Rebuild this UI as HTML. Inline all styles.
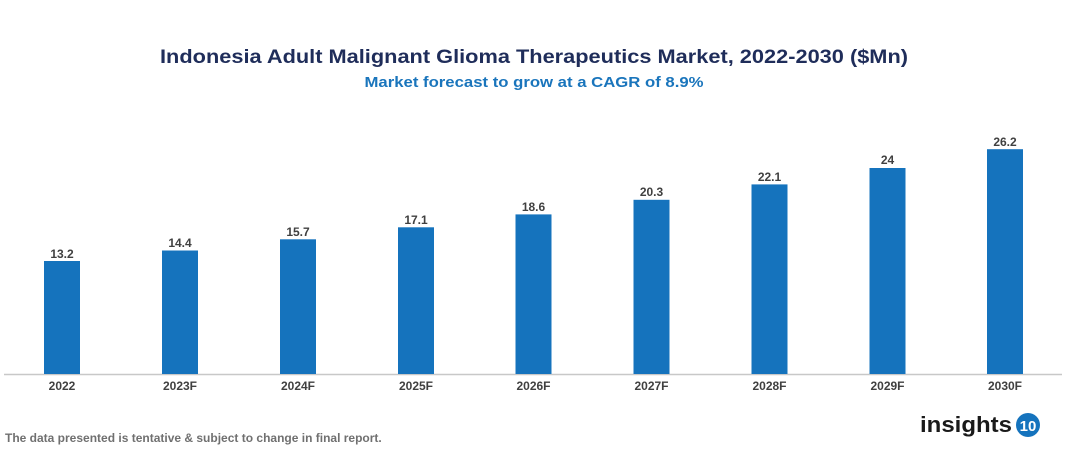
<!DOCTYPE html>
<html><head><style>body{margin:0;background:#fff}svg{display:block}</style></head><body>
<svg width="1067" height="454" xmlns="http://www.w3.org/2000/svg" font-family="Liberation Sans, Arial, sans-serif" font-weight="bold">
<text x="534" y="63" text-anchor="middle" font-size="19.5" fill="#1f2d5a" textLength="748" lengthAdjust="spacingAndGlyphs">Indonesia Adult Malignant Glioma Therapeutics Market, 2022-2030 ($Mn)</text>
<text x="534" y="87" text-anchor="middle" font-size="15" fill="#1a75bc" textLength="339" lengthAdjust="spacingAndGlyphs">Market forecast to grow at a CAGR of 8.9%</text>
<line x1="4" y1="374.5" x2="1062" y2="374.5" stroke="#c8c8c8" stroke-width="1.5"/>
<g fill="#1573bd">
<rect x="44" y="261" width="36" height="113"/>
<rect x="162" y="250.5" width="36" height="123.5"/>
<rect x="280" y="239.3" width="36" height="134.7"/>
<rect x="398" y="227.3" width="36" height="146.7"/>
<rect x="515.5" y="214.4" width="36" height="159.6"/>
<rect x="633.5" y="199.8" width="36" height="174.2"/>
<rect x="751.5" y="184.4" width="36" height="189.6"/>
<rect x="869.5" y="168" width="36" height="206"/>
<rect x="987" y="149.2" width="36" height="224.8"/>
</g>
<g font-size="12" fill="#404040" text-anchor="middle">
<text x="62" y="258">13.2</text>
<text x="180" y="247">14.4</text>
<text x="298" y="236">15.7</text>
<text x="416" y="224">17.1</text>
<text x="533.5" y="211">18.6</text>
<text x="651.5" y="196">20.3</text>
<text x="769.5" y="181">22.1</text>
<text x="887.5" y="164">24</text>
<text x="1005" y="146">26.2</text>
</g>
<g font-size="12" fill="#404040" text-anchor="middle">
<text x="62" y="390">2022</text>
<text x="180" y="390">2023F</text>
<text x="298" y="390">2024F</text>
<text x="416" y="390">2025F</text>
<text x="533.5" y="390">2026F</text>
<text x="651.5" y="390">2027F</text>
<text x="769.5" y="390">2028F</text>
<text x="887.5" y="390">2029F</text>
<text x="1005" y="390">2030F</text>
</g>
<text x="5" y="442" font-size="12" fill="#707070">The data presented is tentative &amp; subject to change in final report.</text>
<text x="920" y="432" font-size="22" fill="#1a1a1a" textLength="92" lengthAdjust="spacingAndGlyphs">insights</text>
<circle cx="1028" cy="425" r="12" fill="#1573bd"/>
<text x="1028" y="431" font-size="15" fill="#fff" text-anchor="middle">10</text>
</svg>
</body></html>
